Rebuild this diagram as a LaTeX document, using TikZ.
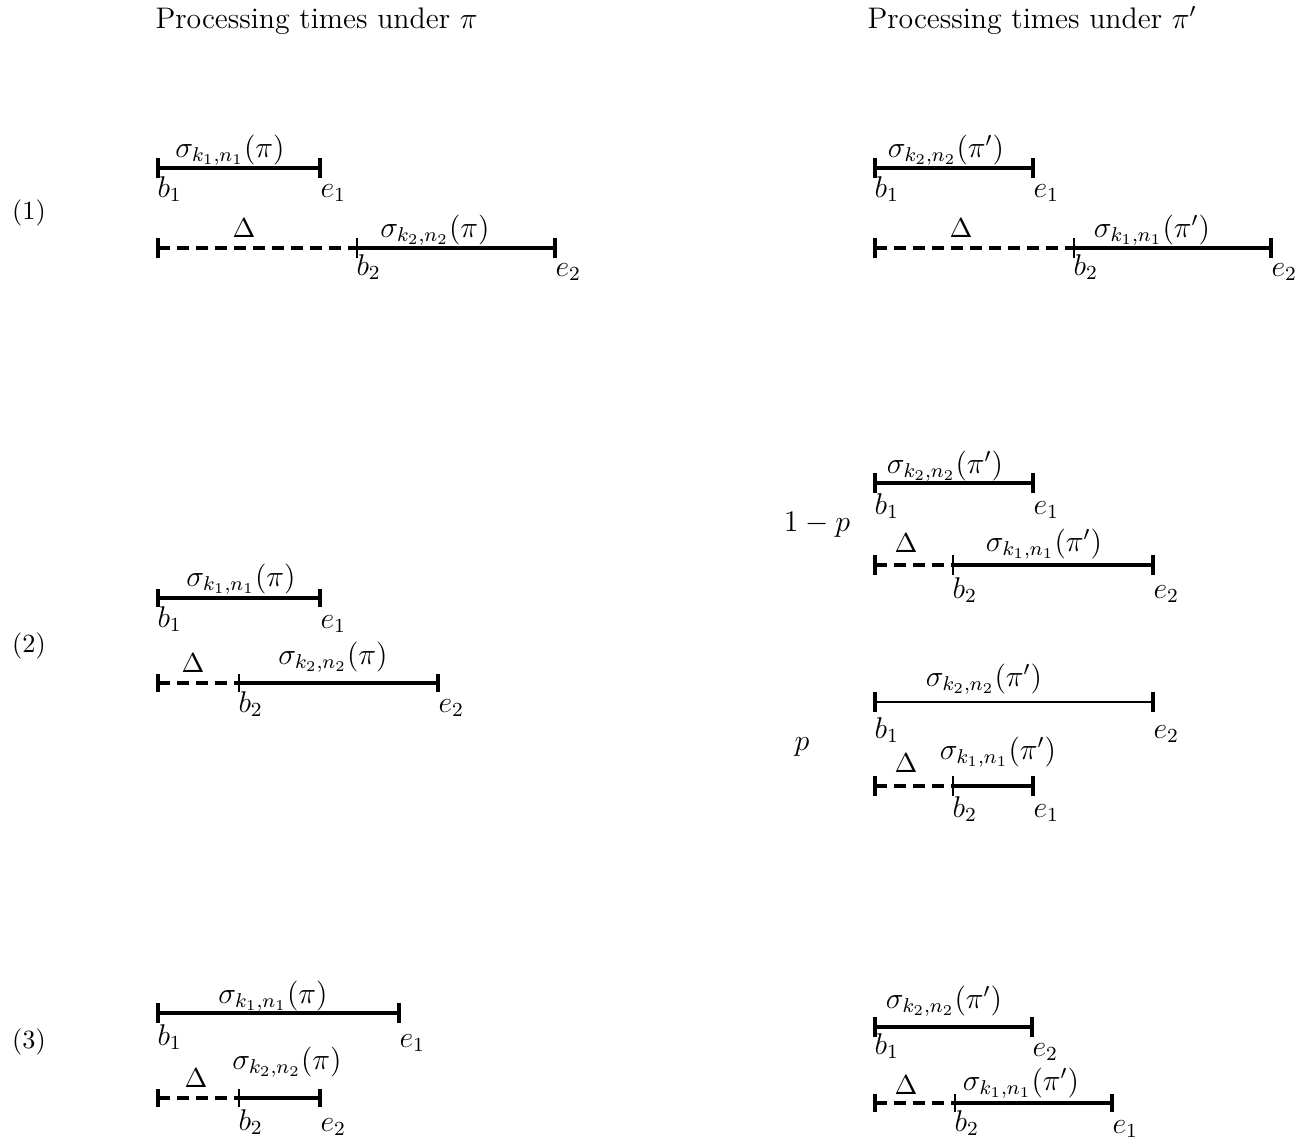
\documentclass[tikz,border=0pt]{standalone}
\usepackage{graphicx}
\begin{document}
\begin{tikzpicture}[x=0.4pt,y=-0.4pt,
  bar/.style={line width=1.6pt},
  thinbar/.style={line width=1.1pt},
  gapline/.style={line width=1.6pt, dash pattern=on 4.8pt off 2.8pt},
  tk/.style={line width=1.6pt},
  tkthin/.style={line width=0.9pt},
  big/.style={font=\fontsize{11.5}{14}\selectfont},
  lab/.style={big, inner sep=0pt, anchor=south},
  dlab/.style={font=\fontsize{10.5}{13}\selectfont, inner sep=0pt, anchor=south},
  pt/.style={big, inner sep=0pt, anchor=base west},
  hd/.style={font=\fontsize{11.9}{14}\selectfont, inner sep=0pt, anchor=base west},
  rowlab/.style={font=\fontsize{10.5}{13}\selectfont, inner sep=0pt, anchor=center},
  prob/.style={big, inner sep=0pt, anchor=base}]
\useasboundingbox (0,0) rectangle (1311,1142);

% headers
\node[hd] (hL) at (155,28) {Processing times under $\pi$};
\node[hd] (hR) at (867,28) {Processing times under $\pi'$};

% row labels
\node[rowlab] (r1) at (29,213) {(1)};
\node[rowlab] (r2) at (29,646) {(2)};
\node[rowlab] (r3) at (29,1042) {(3)};
\node[prob] (q1) at (817,531) {$1-p$};
\node[prob] (q2) at (802,750) {$p$};

%================ case (1) left
\coordinate (a1) at (158,168); \coordinate (a2) at (320,168);
\coordinate (a3) at (158,248); \coordinate (a4) at (357,248); \coordinate (a5) at (555,248);
\draw[bar] (a1) -- (a2);
\draw[tk] (a1) ++(0,-10) -- ++(0,20);
\draw[tk] (a2) ++(0,-10) -- ++(0,20);
\draw[gapline] (a3) -- (a4);
\draw[bar] (a4) -- (a5);
\draw[tk] (a3) ++(0,-10) -- ++(0,20);
\draw[tkthin] (a4) ++(0,-10) -- ++(0,20);
\draw[tk] (a5) ++(0,-10) -- ++(0,20);
\node[lab] (a1s) at (230,166) {$\sigma_{k_1,n_1}(\pi)$};
\node[lab] (a2s) at (435,246) {$\sigma_{k_2,n_2}(\pi)$};
\node[dlab] (a2d) at (244,238) {$\Delta$};
\node[pt] (a1b) at (157,197) {$b_1$};
\node[pt] (a1e) at (320,197) {$e_1$};
\node[pt] (a2b) at (356,275) {$b_2$};
\node[pt] (a2e) at (555,276) {$e_2$};

%================ case (1) right
\coordinate (c1) at (875,168); \coordinate (c2) at (1033,168);
\coordinate (c3) at (875,248); \coordinate (c4) at (1074,248); \coordinate (c5) at (1271,248);
\draw[bar] (c1) -- (c2);
\draw[tk] (c1) ++(0,-10) -- ++(0,20);
\draw[tk] (c2) ++(0,-10) -- ++(0,20);
\draw[gapline] (c3) -- (c4);
\draw[bar] (c4) -- (c5);
\draw[tk] (c3) ++(0,-10) -- ++(0,20);
\draw[tkthin] (c4) ++(0,-10) -- ++(0,20);
\draw[tk] (c5) ++(0,-10) -- ++(0,20);
\node[lab] (c1s) at (946,166) {$\sigma_{k_2,n_2}(\pi')$};
\node[lab] (c2s) at (1152,246) {$\sigma_{k_1,n_1}(\pi')$};
\node[dlab] (c2d) at (961,238) {$\Delta$};
\node[pt] (c1b) at (874,197) {$b_1$};
\node[pt] (c1e) at (1033,197) {$e_1$};
\node[pt] (c2b) at (1073,275) {$b_2$};
\node[pt] (c2e) at (1271,276) {$e_2$};

%================ case (2) left
\coordinate (d1) at (158,598); \coordinate (d2) at (320,598);
\coordinate (d3) at (158,683); \coordinate (d4) at (239,683); \coordinate (d5) at (438,683);
\draw[bar] (d1) -- (d2);
\draw[tk] (d1) ++(0,-9) -- ++(0,18);
\draw[tk] (d2) ++(0,-9) -- ++(0,18);
\draw[gapline] (d3) -- (d4);
\draw[bar] (d4) -- (d5);
\draw[tk] (d3) ++(0,-9) -- ++(0,18);
\draw[tkthin] (d4) ++(0,-9) -- ++(0,18);
\draw[tk] (d5) ++(0,-9) -- ++(0,18);
\node[lab] (d1s) at (241,595) {$\sigma_{k_1,n_1}(\pi)$};
\node[lab] (d2s) at (333,673) {$\sigma_{k_2,n_2}(\pi)$};
\node[dlab] (d2d) at (193,673) {$\Delta$};
\node[pt] (d1b) at (157,627) {$b_1$};
\node[pt] (d1e) at (320,628) {$e_1$};
\node[pt] (d2b) at (238,712) {$b_2$};
\node[pt] (d2e) at (438,712) {$e_2$};

%================ case (2) right, 1-p
\coordinate (f1) at (875,483); \coordinate (f2) at (1033,483);
\coordinate (f3) at (875,565); \coordinate (f4) at (953,565); \coordinate (f5) at (1153,565);
\draw[bar] (f1) -- (f2);
\draw[tk] (f1) ++(0,-10) -- ++(0,20);
\draw[tk] (f2) ++(0,-10) -- ++(0,20);
\draw[gapline] (f3) -- (f4);
\draw[bar] (f4) -- (f5);
\draw[tk] (f3) ++(0,-10) -- ++(0,20);
\draw[tkthin] (f4) ++(0,-10) -- ++(0,20);
\draw[tk] (f5) ++(0,-10) -- ++(0,20);
\node[lab] (f1s) at (945,482) {$\sigma_{k_2,n_2}(\pi')$};
\node[lab] (f2s) at (1044,560) {$\sigma_{k_1,n_1}(\pi')$};
\node[dlab] (f2d) at (906,553) {$\Delta$};
\node[pt] (f1b) at (874,514) {$b_1$};
\node[pt] (f1e) at (1033,514) {$e_1$};
\node[pt] (f2b) at (952,598) {$b_2$};
\node[pt] (f2e) at (1153,598) {$e_2$};

%================ case (2) right, p
\coordinate (g1) at (875,702); \coordinate (g2) at (1153,702);
\coordinate (g3) at (875,786); \coordinate (g4) at (953,786); \coordinate (g5) at (1033,786);
\draw[thinbar] (g1) -- (g2);
\draw[tk] (g1) ++(0,-10) -- ++(0,20);
\draw[tk] (g2) ++(0,-10) -- ++(0,20);
\draw[gapline] (g3) -- (g4);
\draw[bar] (g4) -- (g5);
\draw[tk] (g3) ++(0,-10) -- ++(0,20);
\draw[tkthin] (g4) ++(0,-10) -- ++(0,20);
\draw[tk] (g5) ++(0,-10) -- ++(0,20);
\node[lab] (g1s) at (984,695) {$\sigma_{k_2,n_2}(\pi')$};
\node[lab] (g2s) at (998,768) {$\sigma_{k_1,n_1}(\pi')$};
\node[dlab] (g2d) at (906,773) {$\Delta$};
\node[pt] (g1b) at (874,738) {$b_1$};
\node[pt] (g1e) at (1153,738) {$e_2$};
\node[pt] (g2b) at (952,817) {$b_2$};
\node[pt] (g2e) at (1033,817) {$e_1$};

%================ case (3) left
\coordinate (h1) at (158,1013); \coordinate (h2) at (399,1013);
\coordinate (h3) at (158,1098); \coordinate (h4) at (239,1098); \coordinate (h5) at (320,1098);
\draw[bar] (h1) -- (h2);
\draw[tk] (h1) ++(0,-10) -- ++(0,20);
\draw[tk] (h2) ++(0,-10) -- ++(0,20);
\draw[gapline] (h3) -- (h4);
\draw[bar] (h4) -- (h5);
\draw[tk] (h3) ++(0,-9) -- ++(0,18);
\draw[tkthin] (h4) ++(0,-9) -- ++(0,18);
\draw[tk] (h5) ++(0,-9) -- ++(0,18);
\node[lab] (h1s) at (273,1012) {$\sigma_{k_1,n_1}(\pi)$};
\node[lab] (h2s) at (287,1078) {$\sigma_{k_2,n_2}(\pi)$};
\node[dlab] (h2d) at (196,1088) {$\Delta$};
\node[pt] (h1b) at (157,1045) {$b_1$};
\node[pt] (h1e) at (399,1047) {$e_1$};
\node[pt] (h2b) at (238,1130) {$b_2$};
\node[pt] (h2e) at (320,1131) {$e_2$};

%================ case (3) right
\coordinate (k1) at (875,1027); \coordinate (k2) at (1032,1027);
\coordinate (k3) at (875,1103); \coordinate (k4) at (955,1103); \coordinate (k5) at (1112,1103);
\draw[bar] (k1) -- (k2);
\draw[tk] (k1) ++(0,-10) -- ++(0,20);
\draw[tk] (k2) ++(0,-10) -- ++(0,20);
\draw[gapline] (k3) -- (k4);
\draw[bar] (k4) -- (k5);
\draw[tk] (k3) ++(0,-9) -- ++(0,18);
\draw[tkthin] (k4) ++(0,-9) -- ++(0,18);
\draw[tk] (k5) ++(0,-9) -- ++(0,18);
\node[lab] (k1s) at (944,1017) {$\sigma_{k_2,n_2}(\pi')$};
\node[lab] (k2s) at (1021,1099) {$\sigma_{k_1,n_1}(\pi')$};
\node[dlab] (k2d) at (906,1095) {$\Delta$};
\node[pt] (k1b) at (874,1054) {$b_1$};
\node[pt] (k1e) at (1032,1056) {$e_2$};
\node[pt] (k2b) at (954,1131) {$b_2$};
\node[pt] (k2e) at (1112,1133) {$e_1$};
\end{tikzpicture}
\end{document}
